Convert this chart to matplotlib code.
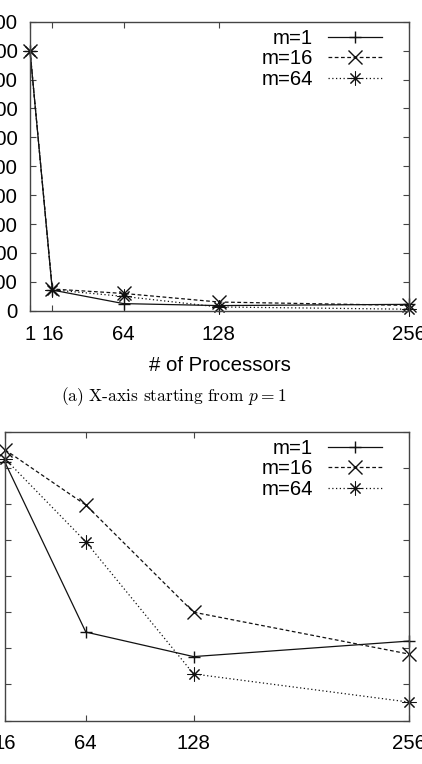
import matplotlib
matplotlib.use("Agg")
import matplotlib.pyplot as plt

# ---- data ----
procs = [1, 16, 64, 128, 256]
m1_vals = [900, 71.5, 24.5, 17.7, 22.0]
m16_vals = [900, 75.0, 59.7, 30.0, 18.4]
m64_vals = [900, 72.5, 49.5, 12.9, 5.1]
series_labels = ["m=1", "m=16", "m=64"]
top_xticks = [1, 16, 64, 128, 256]
bot_xticks = [16, 64, 128, 256]
top_yticks = list(range(0, 1001, 100))
bot_yticks = list(range(0, 81, 10))

plt.rcParams['font.family'] = ['Liberation Sans', 'DejaVu Sans']
plt.rcParams['mathtext.fontset'] = 'cm'

W, H = 422, 764
fig = plt.figure(figsize=(W / 100, H / 100), dpi=100)

FS = 14.7
ink = '#111111'
spine_c = '#444444'

styles = [
    dict(ls='-', marker='+', ms=8.5, mew=1.0),
    dict(ls=(0, (3, 2)), marker='x', ms=9.5, mew=1.0),
    dict(ls=(0, (1, 2)), marker=(8, 2, 0), ms=10, mew=0.75),
]


def style_axes(ax, xt, yt, xlim, ylim):
    ax.set_xlim(*xlim)
    ax.set_ylim(*ylim)
    ax.set_xticks(xt)
    ax.set_xticklabels([str(v) for v in xt])
    ax.set_yticks(yt)
    ax.set_yticklabels([str(v) for v in yt])
    ax.tick_params(direction='in', length=4, width=0.8, color=spine_c,
                   top=True, right=True, labelsize=FS, pad=9)
    ax.tick_params(axis='x', pad=10)
    for s in ax.spines.values():
        s.set_color(spine_c)
        s.set_linewidth(1.0)


def add_legend(ax, anchor):
    ax.legend(loc='upper right', bbox_to_anchor=anchor, frameon=False,
              markerfirst=False, fontsize=FS, handlelength=2.65,
              handletextpad=0.73, labelspacing=0.07, borderpad=0,
              borderaxespad=0)


# ---- top panel ----
ax1 = fig.add_axes([30 / W, 1 - 310.7 / H, 379 / W, 289 / H])
for vals, lab, st in zip([m1_vals, m16_vals, m64_vals], series_labels, styles):
    ax1.plot(procs, vals, color=ink, lw=0.9, label=lab, clip_on=False, **st)
style_axes(ax1, top_xticks, top_yticks, (1, 256), (0, 1000))
ax1.set_xlabel('# of Processors', fontsize=FS, labelpad=9)
add_legend(ax1, (0.929, 0.975))

fig.text(174 / W, 1 - 397 / H, r'(a) X-axis starting from $p = 1$',
         family='cmr10', fontsize=12.5, ha='center', va='center')

# ---- bottom panel ----
ax2 = fig.add_axes([5 / W, 1 - 720.5 / H, 404 / W, 288.8 / H])
for vals, lab, st in zip([m1_vals, m16_vals, m64_vals], series_labels, styles):
    ax2.plot(procs[1:], vals[1:], color=ink, lw=0.9, label=lab, clip_on=False, **st)
style_axes(ax2, bot_xticks, bot_yticks, (16, 256), (0, 80))
add_legend(ax2, (0.933, 0.975))

fig.savefig('out.png', dpi=100)
